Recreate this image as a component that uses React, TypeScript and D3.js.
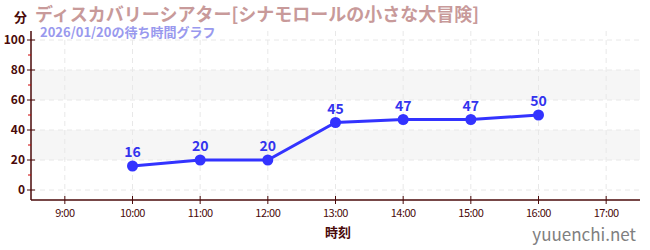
import React from "react";
import * as d3 from "d3";

const times = [10, 11, 12, 13, 14, 15, 16];
const waits = [16, 20, 20, 45, 47, 47, 50];
const xTicks = [9, 10, 11, 12, 13, 14, 15, 16, 17];
const yTicks = [0, 20, 40, 60, 80, 100];
const yMinor = [10, 30, 50, 70, 90];
const bands: [number, number][] = [[20, 40], [60, 80]];
const title = "ディスカバリーシアター[シナモロールの小さな大冒険]";
const subtitle = "2026/01/20の待ち時間グラフ";

const W = 650, H = 250;
const left = 31, right = 640, top = 31, bottom = 200;
const font = "'Noto Sans CJK JP', 'Noto Sans', sans-serif";
const axisColor = "#4a0a0a";

export default function App() {
  const x = d3.scaleLinear().domain([8.5, 17.5]).range([left, right]);
  const y = d3.scaleLinear().domain([0, 100]).range([190, 40]);
  const line = d3.line<number>().x((_, i) => x(times[i])).y((d) => y(d));
  return (
    <svg width={W} height={H} style={{ position: "absolute", left: 0, top: 0, fontFamily: font }}>
      <rect x={0} y={0} width={W} height={H} fill="#fff" />
      {bands.map(([a, b], i) => (
        <rect key={i} x={left} width={right - left} y={y(b)} height={y(a) - y(b)} fill="#f6f6f6" />
      ))}
      {yTicks.map((t) => (
        <line key={"gy" + t} x1={left} x2={right} y1={y(t)} y2={y(t)} stroke="#e8e8e8" strokeDasharray="5,4" />
      ))}
      {xTicks.map((t) => (
        <line key={"gx" + t} x1={x(t)} x2={x(t)} y1={top} y2={bottom} stroke="#e8e8e8" strokeDasharray="5,4" />
      ))}
      <line x1={left} x2={left} y1={top} y2={bottom} stroke={axisColor} strokeWidth={1.5} />
      <line x1={left} x2={right} y1={bottom} y2={bottom} stroke={axisColor} strokeWidth={1.5} />
      {yTicks.map((t) => (
        <g key={"ty" + t}>
          <line x1={left - 4} x2={left + 4} y1={y(t)} y2={y(t)} stroke={axisColor} />
          <text x={left - 6} y={y(t)} dy="0.35em" textAnchor="end" fontSize={12} fontWeight="bold" fill={axisColor}>{t}</text>
        </g>
      ))}
      {yMinor.map((t) => (
        <line key={"my" + t} x1={left - 3} x2={left} y1={y(t)} y2={y(t)} stroke="#cc0000" />
      ))}
      {xTicks.map((t) => (
        <g key={"tx" + t}>
          <line x1={x(t)} x2={x(t)} y1={bottom - 4} y2={bottom + 4} stroke={axisColor} />
          <text x={x(t)} y={bottom + 17} textAnchor="middle" fontSize={11} fill={axisColor} style={{ letterSpacing: "-0.5px" }}>{`${t}:00`}</text>
        </g>
      ))}
      <path d={line(waits) || ""} fill="none" stroke="#3333ff" strokeWidth={3} />
      {waits.map((v, i) => (
        <g key={"p" + i}>
          <circle cx={x(times[i])} cy={y(v)} r={5.5} fill="#3333ff" />
          <text x={x(times[i])} y={y(v) - 9} textAnchor="middle" fontSize={14} fontWeight="bold" fill="#3333ee">{v}</text>
        </g>
      ))}
      <text x={14} y={22} fontSize={13} fontWeight="bold" fill={axisColor}>分</text>
      <text x={35} y={21} fontSize={18} fontWeight="bold" fill="#c89a9a">{title}</text>
      <text x={40} y={37} fontSize={13} fontWeight="bold" fill="#9999ee">{subtitle}</text>
      <text x={338} y={237} textAnchor="middle" fontSize={13} fontWeight="bold" fill={axisColor}>時刻</text>
      <text x={636} y={241} textAnchor="end" fontSize={17} fill="#808080">yuuenchi.net</text>
    </svg>
  );
}
